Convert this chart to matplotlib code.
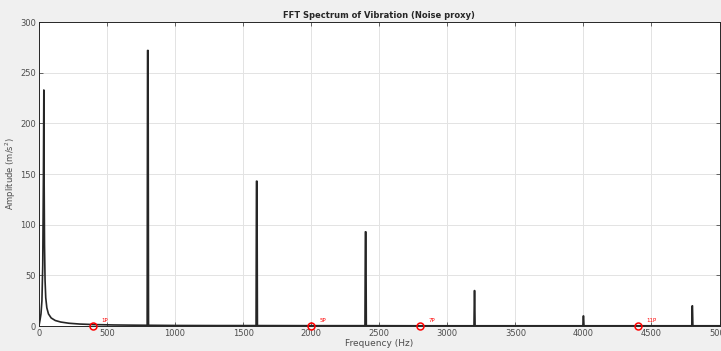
import numpy as np
import matplotlib
matplotlib.use('Agg')
import matplotlib.pyplot as plt

# spectrum outline (Hz, m/s^2)
freq = [0, 8, 15, 22, 28, 33, 36, 38, 41, 45, 50, 58, 70, 90, 120, 160, 220, 300, 400, 550, 700, 795,
        798, 800, 802, 805, 1000, 1300, 1595, 1598, 1600, 1602, 1605, 2000, 2395, 2398, 2400, 2402,
        2405, 2800, 3196, 3199, 3200, 3201, 3204, 3600, 3996, 3999, 4000, 4001, 4004, 4400, 4796,
        4799, 4800, 4801, 4804, 5000]
amp = [0, 6, 12, 25, 60, 150, 233, 150, 80, 45, 28, 18, 12, 8, 5.5, 4.0, 2.8, 2.0, 1.5, 1.1, 0.9, 0.8,
       272, 272, 272, 0.8, 0.6, 0.5, 0.5, 143, 143, 143, 0.5, 0.4, 0.4, 93, 93, 93,
       0.4, 0.3, 0.3, 35, 35, 35, 0.3, 0.3, 0.3, 10, 10, 10, 0.3, 0.3, 0.3,
       20, 20, 20, 0.3, 0.3]

# marked frequencies
mark_freq = [400, 2000, 2800, 4400]
mark_amp = [0, 0, 0, 0]
mark_text = ['1P', '5P', '7P', '11P']

fig = plt.figure(figsize=(7.21, 3.51), dpi=100, facecolor='#f0f0f0')
ax = fig.add_axes([0.054, 0.071, 0.944, 0.866])
ax.plot(freq, amp, color='#262626', linewidth=1.2)
ax.plot(mark_freq, mark_amp, 'o', mfc='none', mec='red', ms=5, mew=1.1, clip_on=False, zorder=5)
for f, t in zip(mark_freq, mark_text):
    ax.text(f + 60, 3, t, color='red', fontsize=4, va='bottom', ha='left')

ax.set_xlim(0, 5000)
ax.set_ylim(0, 300)
ax.set_xticks(np.arange(0, 5001, 500))
ax.set_yticks(np.arange(0, 301, 50))
ax.grid(True, color='#e3e3e3', linewidth=0.7)
ax.set_axisbelow(True)
ax.tick_params(labelsize=6, colors='#4d4d4d', length=3, width=0.6, direction='in',
               top=True, right=True, pad=2)
for s in ax.spines.values():
    s.set_color('#262626')
    s.set_linewidth(0.7)
ax.set_title('FFT Spectrum of Vibration (Noise proxy)', fontsize=6, fontweight='bold',
             color='#262626', pad=3)
ax.set_xlabel('Frequency (Hz)', fontsize=6.5, color='#4d4d4d', labelpad=1)
ax.set_ylabel('Amplitude (m/s$^2$)', fontsize=6, color='#4d4d4d', labelpad=2)
fig.savefig('out.png', dpi=100, facecolor=fig.get_facecolor())
